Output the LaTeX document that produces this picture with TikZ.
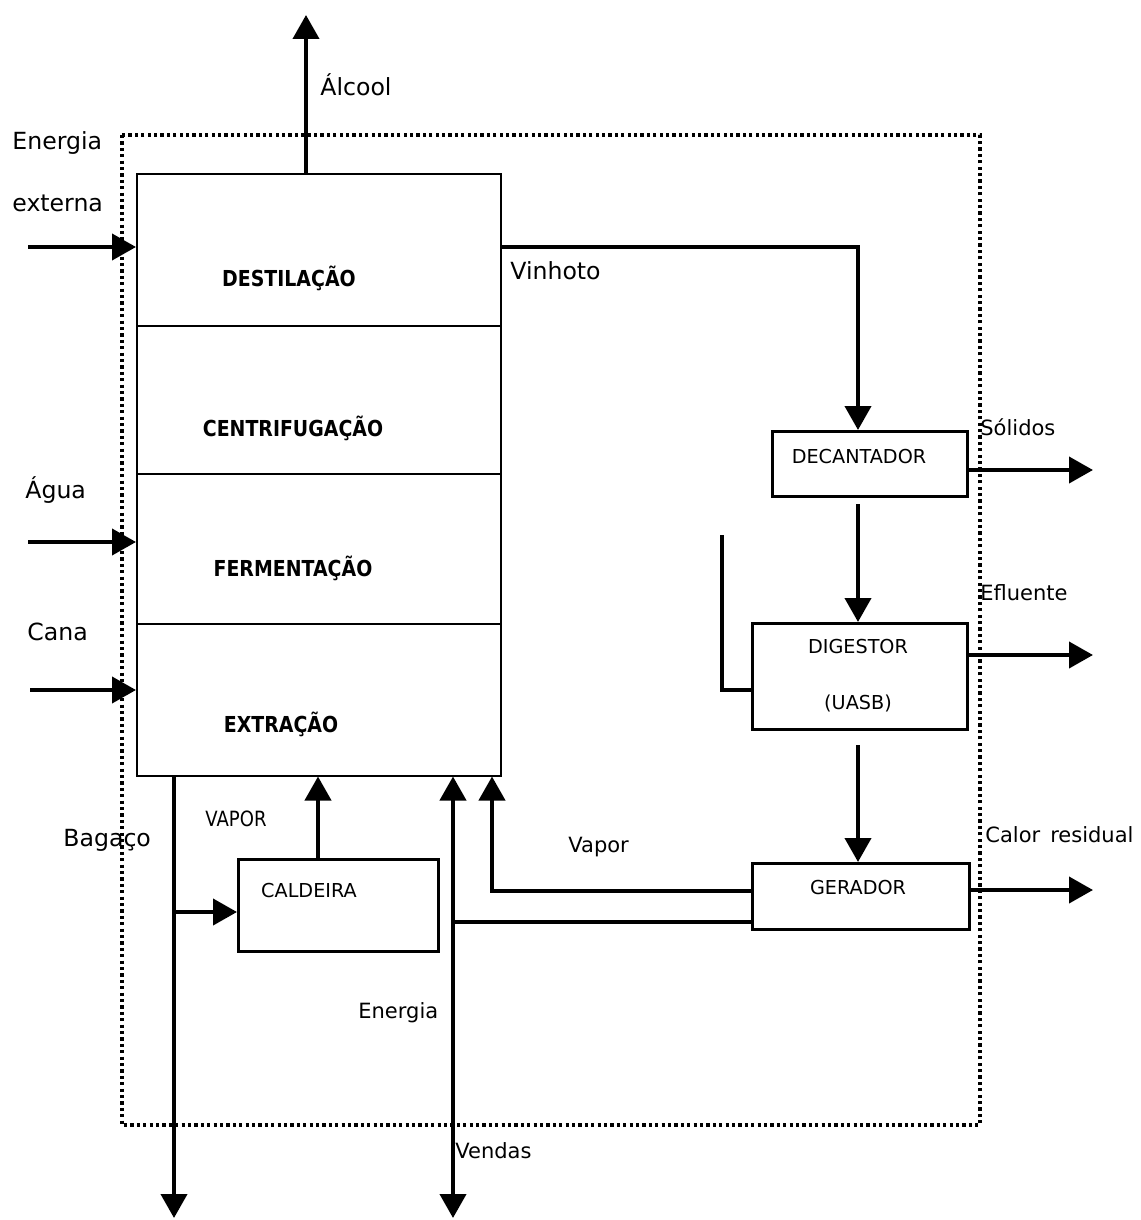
\documentclass[tikz,border=0pt]{standalone}
\usepackage{fontspec}
\setmainfont{DejaVu Sans}
\newfontfamily\condfont[FakeStretch=0.86]{DejaVu Sans}
\usetikzlibrary{arrows.meta}
\tikzset{
  sect/.style={draw, line width=0.75pt, inner sep=0pt, minimum width=182pt, anchor=north west},
  unit/.style={draw, line width=1.7pt, inner sep=0pt, anchor=north west},
  flow/.style={line width=2pt, -{Triangle[length=12pt,width=13pt]}},
  plain/.style={line width=2pt},
  sectlabel/.style={font=\condfont\bfseries\fontsize{11}{12}\selectfont},
  unitlabel/.style={font=\fontsize{9.6}{11}\selectfont, inner sep=0pt},
  lbl/.style={font=\fontsize{10.5}{12}\selectfont, anchor=west, inner sep=0pt},
  biglbl/.style={font=\fontsize{11.8}{13}\selectfont, anchor=west, inner sep=0pt},
  boundary/.style={line width=1.7pt, dash pattern=on 1.6pt off 1.6pt}
}
\begin{document}
\begin{tikzpicture}[x=0.5pt,y=-0.5pt]
\useasboundingbox (0,0) rectangle (1140,1220);

% system boundary
\draw[boundary] (122,135) rectangle (980,1125);

% main column
\node[sect, minimum height=76pt] (dest) at (136,173) {};
\node[sect, minimum height=74pt] (cent) at (136,325) {};
\node[sect, minimum height=75pt] (ferm) at (136,473) {};
\node[sect, minimum height=76pt] (extr) at (136,623) {};
\node[sectlabel] (tdest) at (289,278) {DESTILAÇÃO};
\node[sectlabel] (tcent) at (293,428) {CENTRIFUGAÇÃO};
\node[sectlabel] (tferm) at (293,568) {FERMENTAÇÃO};
\node[sectlabel] (textr) at (281,724) {EXTRAÇÃO};

% units
\node[unit, minimum width=97.5pt, minimum height=32.5pt] (dec) at (771,430) {};
\node[unitlabel] (tdec) at (859,457) {DECANTADOR};
\node[unit, minimum width=107.5pt, minimum height=53pt] (dig) at (751,622) {};
\node[unitlabel] (tdig) at (858,647) {DIGESTOR};
\node[unitlabel] (tuasb) at (858,703) {(UASB)};
\node[unit, minimum width=108.5pt, minimum height=33pt] (ger) at (751,862) {};
\node[unitlabel] (tger) at (858,888) {GERADOR};
\node[unit, minimum width=100pt, minimum height=46pt] (cal) at (237,858) {};
\node[unitlabel] (tcal) at (309,890) {CALDEIRA};

% free ends
\coordinate (alc) at (306,15);
\coordinate (ee) at (28,247);
\coordinate (ag) at (28,542);
\coordinate (ca) at (30,690);
\coordinate (vin) at (858,247);
\coordinate (d1) at (858,504);
\coordinate (d2) at (858,745);
\coordinate (so) at (1093,470);
\coordinate (ef) at (1093,655);
\coordinate (cr) at (1093,890);
\coordinate (dl) at (722,535);
\coordinate (dl2) at (722,690);
\coordinate (v1) at (492,891);
\coordinate (e1) at (453,922);
\coordinate (e2) at (453,1218);
\coordinate (b1) at (174,1218);
\coordinate (b2) at (174,912);
\coordinate (c1) at (318,858);

% connectors
\draw[flow] (alc |- dest.north) -- (alc);
\draw[flow] (ee) -- (ee -| dest.west);
\draw[flow] (ag) -- (ag -| ferm.west);
\draw[flow] (ca) -- (ca -| extr.west);
\draw[flow] (vin -| dest.east) -- (vin) -- (vin |- dec.north);
\draw[flow] (d1) -- (d1 |- dig.north);
\draw[flow] (d2) -- (d2 |- ger.north);
\draw[flow] (so -| dec.east) -- (so);
\draw[flow] (ef -| dig.east) -- (ef);
\draw[flow] (cr -| ger.east) -- (cr);
\draw[plain] (dl) -- (dl2) -- (dl2 -| dig.west);
\draw[flow] (v1 -| ger.west) -- (v1) -- (v1 |- extr.south);
\draw[plain] (e1 -| ger.west) -- (e1);
\draw[line width=2pt, {Triangle[length=12pt,width=13pt]}-{Triangle[length=12pt,width=13pt]}] (e2 |- extr.south) -- (e2);
\draw[flow] (b1 |- extr.south) -- (b1);
\draw[flow] (b2) -- (b2 -| cal.west);
\draw[flow] (c1 |- cal.north) -- (c1 |- extr.south);

% labels
\node[biglbl] (lalc) at (320,85) {Álcool};
\node[biglbl] (lee1) at (12,143) {Energia};
\node[biglbl] (lee2) at (12,203) {externa};
\node[biglbl] (lvin) at (510,271) {Vinhoto};
\node[biglbl] (lag) at (25,490) {Água};
\node[biglbl] (lca) at (27,632) {Cana};
\node[lbl] (lso) at (980,427) {Sólidos};
\node[lbl] (lef) at (980,593) {Efluente};
\node[lbl] (lcr) at (985,835) {Calor\hspace{5pt}residual};
\node[lbl] (lvap) at (568,847) {Vapor};
\node[lbl] (len) at (358,1013) {Energia};
\node[lbl] (lven) at (455,1151) {Vendas};
\node[biglbl] (lbag) at (63,840) {Bagaço};
\node[lbl, font=\condfont\fontsize{10.5}{12}\selectfont] (lVAP) at (205,819) {VAPOR};
\end{tikzpicture}
\end{document}
